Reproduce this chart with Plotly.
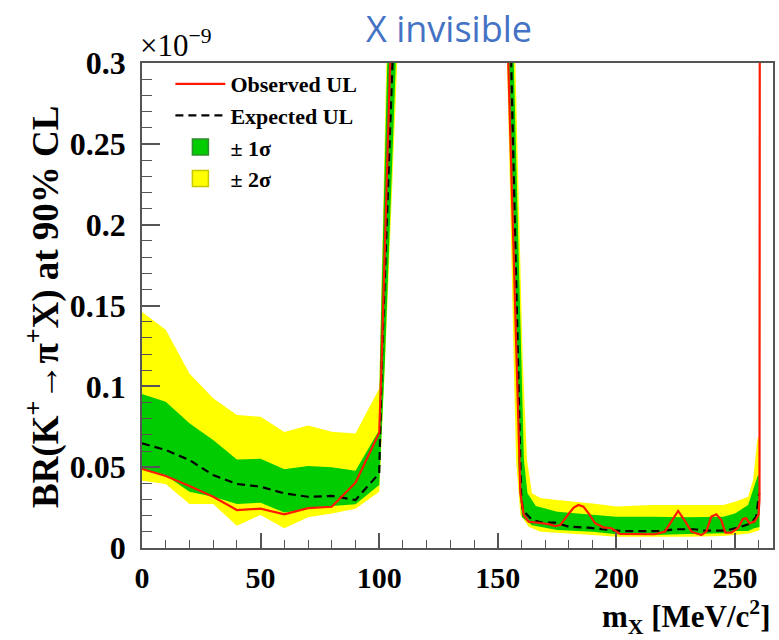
import plotly.graph_objects as go

# ---------------- data ----------------
# Observed upper limit (red)
obs_x = [0, 10, 20, 30, 40, 50, 60, 70, 80, 90, 100, 101, 104.6, 110,
         150, 154.3, 157.7, 158.8, 159.5, 160.9, 163, 168.6, 171.4, 174.2, 176.3,
         179.8, 182, 184, 186.1, 188.5, 191, 194.5, 197.9, 201.5, 209.2, 216.2,
         220.4, 223.5, 226, 228.8, 231.6, 235.8, 237.9, 240, 242.1, 244.2, 245.9,
         248.4, 251.2, 253.3, 254.7, 256.1, 258.2, 259.9, 260.3, 260.5]
obs_y = [0.0489, 0.0445, 0.0383, 0.0317, 0.0235, 0.0243, 0.0208, 0.0247, 0.0255, 0.0404,
         0.0713, 0.115, 0.3, 0.56,
         0.53, 0.3, 0.116, 0.0544, 0.0338, 0.0206, 0.0163, 0.0153, 0.0148, 0.0136, 0.0142,
         0.021, 0.025, 0.0266, 0.0256, 0.021, 0.0153, 0.0128, 0.0122, 0.0087, 0.0085, 0.0085,
         0.0101, 0.017, 0.0229, 0.017, 0.0101, 0.008, 0.0101, 0.0194, 0.0208, 0.0173, 0.0095,
         0.0095, 0.0122, 0.0179, 0.0184, 0.0153, 0.0163, 0.0204, 0.03, 0.5]

# Expected upper limit (black dashed)
exp_x = [0, 10, 20, 30, 40, 50, 60, 70, 80, 90, 100, 101.1, 105.6, 110,
         150, 155.7, 158.6, 159.3, 159.8, 160.5, 164.4, 168.6, 174.2, 179.8, 188.2,
         193.8, 202.2, 219, 224.6, 233, 237.2, 244.2, 248.4, 252.6, 256.8, 258.9,
         259.6, 260.2]
exp_y = [0.0647, 0.0606, 0.0544, 0.0451, 0.0396, 0.0379, 0.0338, 0.0317, 0.0322, 0.0297,
         0.0462, 0.116, 0.3, 0.48,
         0.66, 0.3, 0.116, 0.0544, 0.0338, 0.0235, 0.0173, 0.0157, 0.0157, 0.0132, 0.0126,
         0.0116, 0.0105, 0.0105, 0.0116, 0.0116, 0.0107, 0.0107, 0.0116, 0.0132, 0.0153, 0.0194,
         0.0276, 0.034]

# +2 sigma edge
y2up_x = [0, 10, 20, 30, 40, 50, 60, 70, 80, 90, 100, 103, 110,
          150, 157.4, 160.5, 162.3, 164.4, 168, 175, 190, 200, 215, 230, 245, 250,
          255.5, 257.6, 259.4, 260.3]
y2up_y = [0.146, 0.135, 0.108, 0.0926, 0.0822, 0.0812, 0.0717, 0.0757, 0.0719, 0.0709,
          0.0987, 0.3, 0.77,
          0.85, 0.3, 0.116, 0.0544, 0.0338, 0.031, 0.0297, 0.0276, 0.0256, 0.0266, 0.0266,
          0.0266, 0.0286, 0.0317, 0.042, 0.067, 0.07]
# -2 sigma edge
y2dn_x = [0, 10, 20, 30, 40, 50, 60, 70, 80, 90, 100, 102.5, 107.6, 110,
          150, 153.9, 156.7, 157.7, 158.8, 159.5, 163, 168, 176, 190, 200, 215, 230,
          245, 252, 256, 260.3]
y2dn_y = [0.0416, 0.0396, 0.0272, 0.0272, 0.0138, 0.0204, 0.0122, 0.019, 0.0214, 0.0243,
          0.0348, 0.116, 0.3, 0.38,
          0.56, 0.3, 0.116, 0.0544, 0.0338, 0.0204, 0.0132, 0.0101, 0.0091, 0.008, 0.007,
          0.007, 0.007, 0.0074, 0.0085, 0.009, 0.011]

# +1 sigma edge
g1up_x = [0, 10, 20, 30, 40, 50, 60, 70, 80, 90, 100, 100.3, 103.4, 110,
          150, 156.7, 159.9, 161, 162.5, 166, 175, 190, 200, 215, 230, 245, 250,
          255.5, 257.6, 259.4, 260.3]
g1up_y = [0.0952, 0.0905, 0.0771, 0.0668, 0.0548, 0.0552, 0.0487, 0.0507, 0.0499, 0.0478,
          0.073, 0.116, 0.3, 0.75,
          0.685, 0.3, 0.116, 0.0544, 0.0338, 0.026, 0.0225, 0.0204, 0.0194, 0.0194, 0.019,
          0.0194, 0.0214, 0.0266, 0.036, 0.044, 0.046]
# -1 sigma edge
g1dn_x = [0, 10, 20, 30, 40, 50, 60, 70, 80, 90, 100, 102.4, 107, 110,
          150, 154.6, 158.3, 158.6, 159.3, 160.2, 164.4, 175, 190, 200, 215, 230, 245,
          250, 255.5, 258, 260.3]
g1dn_y = [0.049, 0.045, 0.0348, 0.0317, 0.0272, 0.028, 0.0219, 0.0241, 0.026, 0.027,
          0.039, 0.116, 0.3, 0.4,
          0.53, 0.3, 0.116, 0.0544, 0.0338, 0.019, 0.014, 0.0111, 0.0101, 0.0085, 0.008,
          0.0087, 0.0091, 0.0105, 0.0105, 0.0122, 0.013]

y_tickvals = [0, 0.05, 0.1, 0.15, 0.2, 0.25, 0.3]
y_ticktext = ["0", "0.05", "0.1", "0.15", "0.2", "0.25", "0.3"]
x_tickvals = [0, 50, 100, 150, 200, 250]
x_ticktext = ["0", "50", "100", "150", "200", "250"]

# ---------------- styling ----------------
SERIF = "Liberation Serif"
YELLOW = "#FFFF00"
GREEN = "#00CC00"
RED = "#FF1A00"
FRAME = "#555555"

fig = go.Figure()

fig.add_trace(go.Scatter(
    x=y2up_x + y2dn_x[::-1], y=y2up_y + y2dn_y[::-1],
    fill="toself", fillcolor=YELLOW, mode="lines",
    line=dict(width=0, color=YELLOW), showlegend=False, hoverinfo="skip"))
fig.add_trace(go.Scatter(
    x=g1up_x + g1dn_x[::-1], y=g1up_y + g1dn_y[::-1],
    fill="toself", fillcolor=GREEN, mode="lines",
    line=dict(width=0, color=GREEN), showlegend=False, hoverinfo="skip"))
fig.add_trace(go.Scatter(
    x=exp_x, y=exp_y, mode="lines",
    line=dict(color="black", width=2.2, dash="8px,5px"),
    name="Expected UL", legendrank=2))
fig.add_trace(go.Scatter(
    x=obs_x, y=obs_y, mode="lines",
    line=dict(color=RED, width=2.2),
    name="Observed UL", legendrank=1))
# legend keys for the bands
fig.add_trace(go.Scatter(
    x=[None], y=[None], mode="markers", name="± 1σ", legendrank=3,
    marker=dict(symbol="square", size=22, color=GREEN, line=dict(color="#2E8B2E", width=1.5))))
fig.add_trace(go.Scatter(
    x=[None], y=[None], mode="markers", name="± 2σ", legendrank=4,
    marker=dict(symbol="square", size=22, color=YELLOW, line=dict(color="#C8C800", width=1.5))))

fig.update_layout(
    width=779, height=640,
    margin=dict(l=142, r=4, t=63, b=92),
    paper_bgcolor="white", plot_bgcolor="white",
    showlegend=True,
    legend=dict(
        x=0.045, y=1.0, xanchor="left", yanchor="top",
        bgcolor="rgba(0,0,0,0)", borderwidth=0,
        font=dict(family=SERIF, size=22, color="black", weight="bold"),
        itemwidth=50, tracegroupgap=0, traceorder="normal", itemsizing="trace",
    ),
)

fig.update_xaxes(
    range=[0, 266], showgrid=False, zeroline=False,
    showline=True, linecolor=FRAME, linewidth=1.5, mirror=True,
    ticks="inside", ticklen=15, tickwidth=1.5, tickcolor=FRAME,
    tickvals=x_tickvals, ticktext=x_ticktext,
    minor=dict(ticks="inside", ticklen=8, dtick=10, tickwidth=1.2, tickcolor=FRAME, showgrid=False),
    tickfont=dict(family=SERIF, size=30, color="black", weight="bold"),
    ticklabelstandoff=2,
)
fig.update_yaxes(
    range=[0, 0.3], showgrid=False, zeroline=False,
    showline=True, linecolor=FRAME, linewidth=1.5, mirror=True,
    ticks="inside", ticklen=18, tickwidth=1.5, tickcolor=FRAME,
    tickvals=y_tickvals, ticktext=y_ticktext,
    minor=dict(ticks="inside", ticklen=10, dtick=0.01, tickwidth=1.2, tickcolor=FRAME, showgrid=False),
    tickfont=dict(family=SERIF, size=32, color="black", weight="bold"),
    ticklabelstandoff=8,
)

# title
fig.add_annotation(
    text="X invisible", xref="paper", yref="paper", x=0.487, y=1.072,
    xanchor="center", yanchor="middle", showarrow=False,
    font=dict(family="Open Sans", size=36, color="#4472C4"))
# exponent
fig.add_annotation(
    text="×10<sup>−9</sup>", xref="paper", yref="paper", x=-0.006, y=0.995,
    xanchor="left", yanchor="bottom", showarrow=False,
    font=dict(family=SERIF, size=31, color="black"))
# y axis title
fig.add_annotation(
    text="BR(K<sup>+</sup>→π<sup>+</sup>X) at 90% CL", xref="paper", yref="paper",
    x=-0.157, y=0.497, xanchor="center", yanchor="middle", textangle=-90,
    showarrow=False, font=dict(family=SERIF, size=37, color="black", weight="bold"))
# x axis title
fig.add_annotation(
    text="m<sub>X</sub> [MeV/c<sup>2</sup>]", xref="paper", yref="paper",
    x=1.0, y=-0.142, xanchor="right", yanchor="middle",
    showarrow=False, font=dict(family=SERIF, size=31, color="black", weight="bold"))

fig.write_html("out.html")
